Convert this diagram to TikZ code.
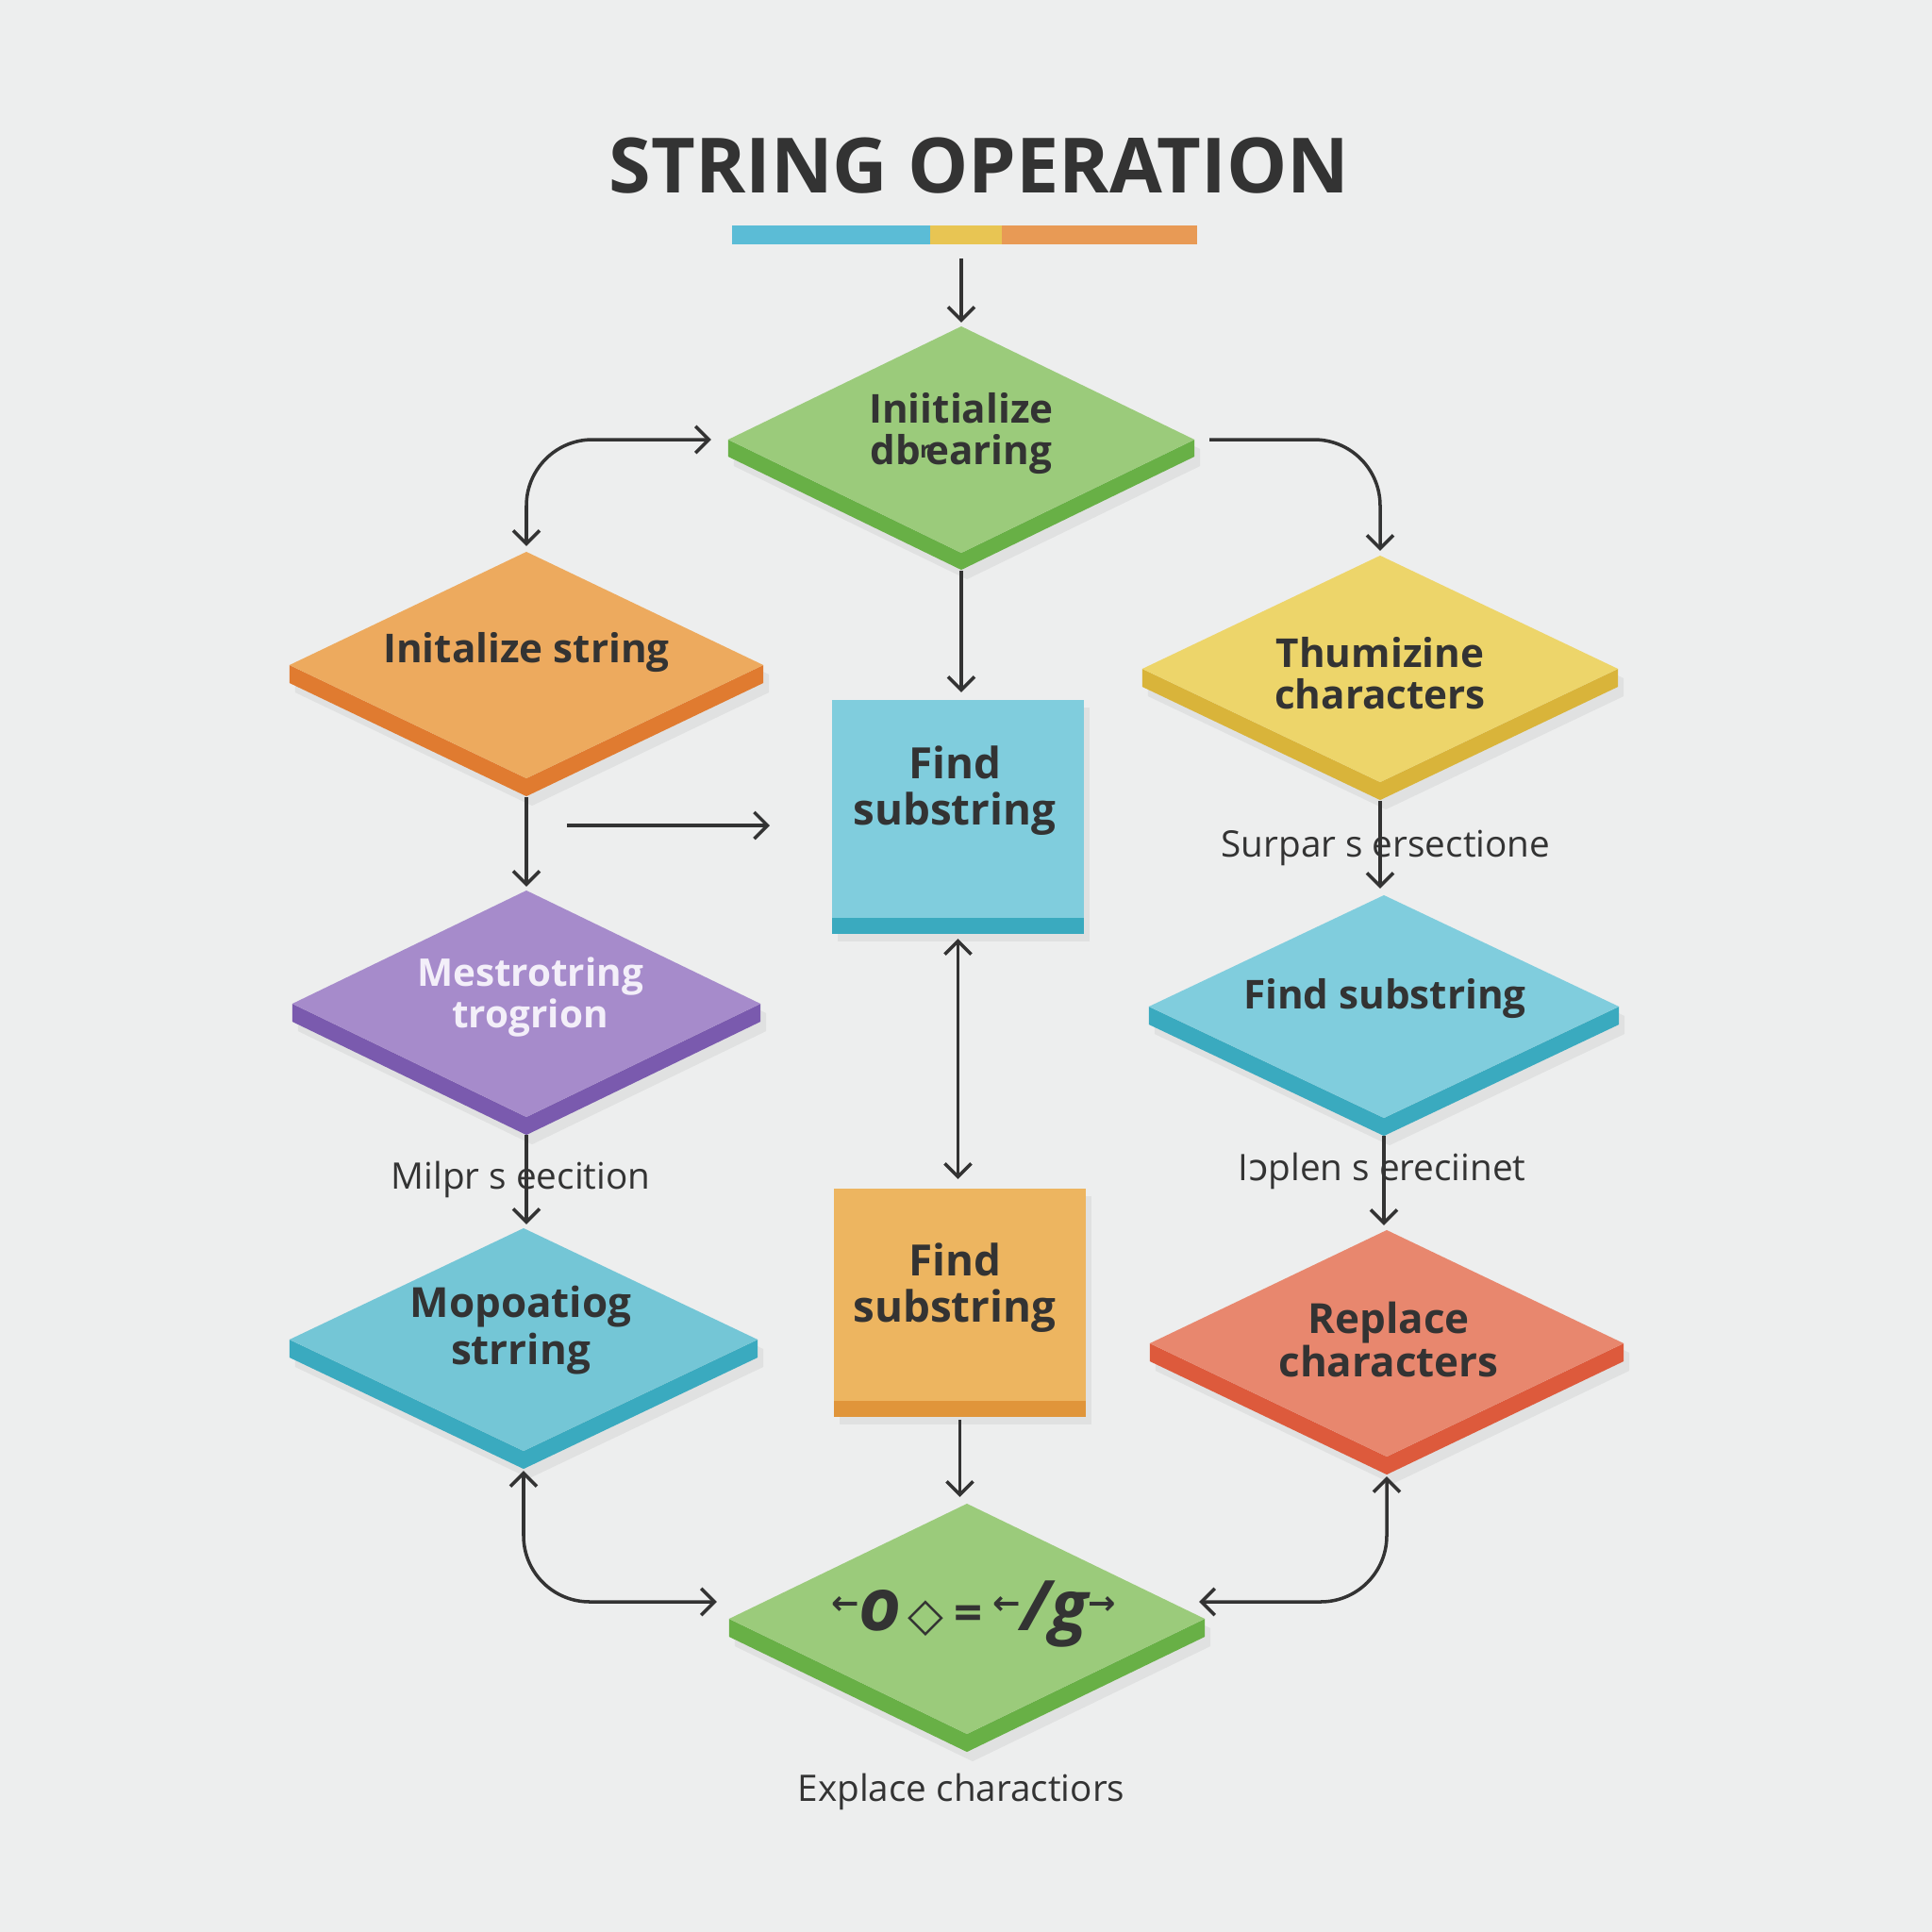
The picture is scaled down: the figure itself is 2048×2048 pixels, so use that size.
\documentclass[tikz,border=0pt]{standalone}
\usepackage{fontspec}
\setmainfont{Open Sans}
\newfontfamily\symfont{DejaVu Sans}
\usetikzlibrary{shapes.geometric,arrows.meta,backgrounds,calc}
\definecolor{bg}{HTML}{EDEEEE}
\definecolor{ink}{HTML}{333333}
\definecolor{barblue}{HTML}{5BBCD6}
\definecolor{baryel}{HTML}{E8C553}
\definecolor{barora}{HTML}{E89A55}
\definecolor{gtop}{HTML}{9BCB7B}\definecolor{gside}{HTML}{68B046}
\definecolor{otop}{HTML}{EDAA5E}\definecolor{oside}{HTML}{E07B30}
\definecolor{ytop}{HTML}{EDD56A}\definecolor{yside}{HTML}{D9B43A}
\definecolor{btop}{HTML}{80CDDD}\definecolor{bside}{HTML}{3AAABF}
\definecolor{b3top}{HTML}{74C6D6}
\definecolor{ptop}{HTML}{A68BCB}\definecolor{pside}{HTML}{7A5AAE}
\definecolor{qtop}{HTML}{EDB560}\definecolor{qside}{HTML}{E0953A}
\definecolor{rtop}{HTML}{E8876E}\definecolor{rside}{HTML}{DD5A3C}
\definecolor{ptext}{HTML}{F3EFF9}
\pgfdeclarelayer{bgfill}
\pgfdeclarelayer{side}
\pgfsetlayers{bgfill,side,main}
\tikzset{
  >={Straight Barb[length=4pt,width=8pt]},
  conn/.style={draw=ink, line width=1pt},
  dia/.style={diamond, inner sep=0pt, outer sep=0pt, draw=none},
  sq/.style={rectangle, inner sep=0pt, outer sep=0pt, draw=none},
  lab/.style={font=\fontsize{12}{12.5}\selectfont\bfseries, text=ink, align=center, inner sep=0pt},
  sqlab/.style={font=\fontsize{13}{14}\selectfont\bfseries, text=ink, align=center, inner sep=0pt},
  note/.style={font=\fontsize{11}{12}\selectfont, text=ink, inner sep=0pt},
  barseg/.style={rectangle, inner sep=0pt, outer sep=0pt, minimum height=0.2cm, anchor=west}
}
% name, x, y, width, height, depth, top, side
\newcommand\mkdiam[8]{%
  \node[dia, minimum width=#4cm, minimum height=#5cm, fill=#7] (#1) at (#2,#3) {};
  \begin{pgfonlayer}{side}
    \fill[black, opacity=0.05] ([shift={(0.06cm,-0.10cm)}]#1.north) -- ([shift={(0.06cm,-0.10cm)}]#1.east) -- ([shift={(0.06cm,-#6cm-0.10cm)}]#1.east) -- ([shift={(0.06cm,-#6cm-0.10cm)}]#1.south) -- ([shift={(0.06cm,-#6cm-0.10cm)}]#1.west) -- ([shift={(0.06cm,-0.10cm)}]#1.west) -- cycle;
    \fill[#8] (#1.west) -- ([yshift=-#6cm]#1.west) -- ([yshift=-#6cm]#1.south) -- ([yshift=-#6cm]#1.east) -- (#1.east) -- (#1.south) -- cycle;
  \end{pgfonlayer}}
\newcommand\mksq[8]{%
  \node[sq, minimum width=#4cm, minimum height=#5cm, fill=#7] (#1) at (#2,#3) {};
  \begin{pgfonlayer}{side}
    \fill[black, opacity=0.05] ([shift={(0.06cm,-0.08cm)}]#1.north west) rectangle ([shift={(0.06cm,-#6cm-0.08cm)}]#1.south east);
    \fill[#8] ([yshift=-#6cm]#1.south west) rectangle ([yshift=0.02cm]#1.south east);
  \end{pgfonlayer}}
\begin{document}
\begin{tikzpicture}[x=0.01cm,y=-0.01cm]
\begin{pgfonlayer}{bgfill}
  \fill[bg] (0,0) rectangle (2048,2048);
\end{pgfonlayer}
\useasboundingbox (0,0) rectangle (2048,2048);

% title and bar
\node[font=\fontsize{23}{23}\selectfont\bfseries, text=ink] (title) at (1038,176) {STRING OPERATION};
\node[barseg, minimum width=2.10cm, fill=barblue] (barb) at (776,249) {};
\node[barseg, minimum width=0.76cm, fill=baryel] (bary) at (barb.east) {};
\node[barseg, minimum width=2.07cm, fill=barora] (baro) at (bary.east) {};

% shapes
\mkdiam{g1}{1019}{466}{4.94}{2.40}{0.18}{gtop}{gside}
\mkdiam{o1}{558}{705}{5.02}{2.40}{0.19}{otop}{oside}
\mkdiam{y1}{1463}{709}{5.04}{2.40}{0.19}{ytop}{yside}
\mksq{s1}{1015.5}{857.5}{2.67}{2.31}{0.17}{btop}{bside}
\mkdiam{p1}{558}{1064}{4.96}{2.40}{0.19}{ptop}{pside}
\mkdiam{b2}{1467}{1067}{4.98}{2.36}{0.19}{btop}{bside}
\mksq{s2}{1017.5}{1372.5}{2.67}{2.25}{0.17}{qtop}{qside}
\mkdiam{b3}{555}{1420}{4.96}{2.36}{0.19}{b3top}{bside}
\mkdiam{r1}{1470}{1424}{5.02}{2.40}{0.19}{rtop}{rside}
\mkdiam{g2}{1025}{1716}{5.04}{2.44}{0.19}{gtop}{gside}

% texts in shapes
\node[lab] (g1t) at (1019,460) {Iniitialize\\db\kern-0.02em{\fontsize{7}{7}\selectfont\bfseries\raisebox{0.55ex}{r}}\kern-0.12em earing};
\node[lab] (o1t) at (558,692) {Initalize string};
\node[lab] (y1t) at (1463,714) {Thumizine\\characters};
\node[sqlab] (s1t) at (1012,838) {Find\\substring};
\node[lab, font=\fontsize{11.5}{12.5}\selectfont\bfseries, text=ptext] (p1t) at (562,1057) {Mestrotring\\trogrion};
\node[lab] (b2t) at (1468,1059) {Find substring};
\node[sqlab] (s2t) at (1012,1365) {Find\\substring};
\node[lab, font=\fontsize{12.5}{14}\selectfont\bfseries] (b3t) at (552,1410) {Mopoatiog\\strring};
\node[lab, font=\fontsize{12.5}{13}\selectfont\bfseries] (r1t) at (1472,1420) {Replace\\characters};
\node[lab] (g2t) at (1032,1711) {{\symfont\bfseries\fontsize{10}{10}\selectfont\raisebox{0.9ex}{←}}{\fontsize{22}{22}\selectfont\bfseries\itshape o}\,{\symfont\bfseries\fontsize{14}{14}\selectfont ◇}\ {\fontsize{15}{15}\selectfont\bfseries =}\ {\symfont\bfseries\fontsize{10}{10}\selectfont\raisebox{0.9ex}{←}}{\fontsize{21}{21}\selectfont\bfseries\itshape /g}{\symfont\bfseries\fontsize{10}{10}\selectfont\raisebox{0.9ex}{→}}};

% connectors
\coordinate (h1) at (601,875);
\coordinate (h2) at (816,875);
\draw[conn,->] ($(bary.south -| g1.north)+(0,15)$) -- ([yshift=0.04cm]g1.north);
\draw[conn,<->, rounded corners=0.7cm] ([xshift=-0.18cm]g1.west) -| ([yshift=0.06cm]o1.north);
\draw[conn,->, rounded corners=0.7cm] ([xshift=0.16cm]g1.east) -| ([yshift=0.05cm]y1.north);
\draw[conn,->] ([yshift=-0.19cm]g1.south) -- ($(s1.north -| g1.south)+(0,-8)$);
\draw[conn,->] ([yshift=-0.20cm]o1.south) -- ($(p1.north -| o1.south)+(0,-4)$);
\draw[conn,->] (h1) -- (h2);
\draw[conn,->] ([yshift=-0.20cm]y1.south) -- ($(b2.north -| y1.south)+(0,-7)$);
\draw[conn,<->] ([yshift=-0.22cm]s1.south) -- ($(s2.north -| s1.south)+(0,-10)$);
\draw[conn,->] ([yshift=-0.19cm]p1.south) -- ($(b3.north -| p1.south)+(0,-4)$);
\draw[conn,->] ([yshift=-0.19cm]b2.south) -- ($(r1.north -| b2.south)+(0,-5)$);
\draw[conn,->] ([yshift=-0.20cm]s2.south) -- ($(g2.north -| s2.south)+(0,-7)$);
\draw[conn,<->, rounded corners=0.7cm] ([yshift=-0.21cm]b3.south) |- ([shift={(-0.13cm,0.18cm)}]g2.west);
\draw[conn,<->, rounded corners=0.7cm] ([yshift=-0.21cm]r1.south) |- ([shift={(-0.06cm,0.18cm)}]g2.east);

% notes on lines
\node[note] (l1) at (1469,899) {Surpar s ersectione};
\node[note] (l2) at (552,1250) {Milpr s eecition};
\node[note] (l3) at (1465,1241) {I{\symfont ɔ}plen s ereciinet};
\node[note] (l4) at (1019,1899) {Explace charactiors};
\end{tikzpicture}
\end{document}
